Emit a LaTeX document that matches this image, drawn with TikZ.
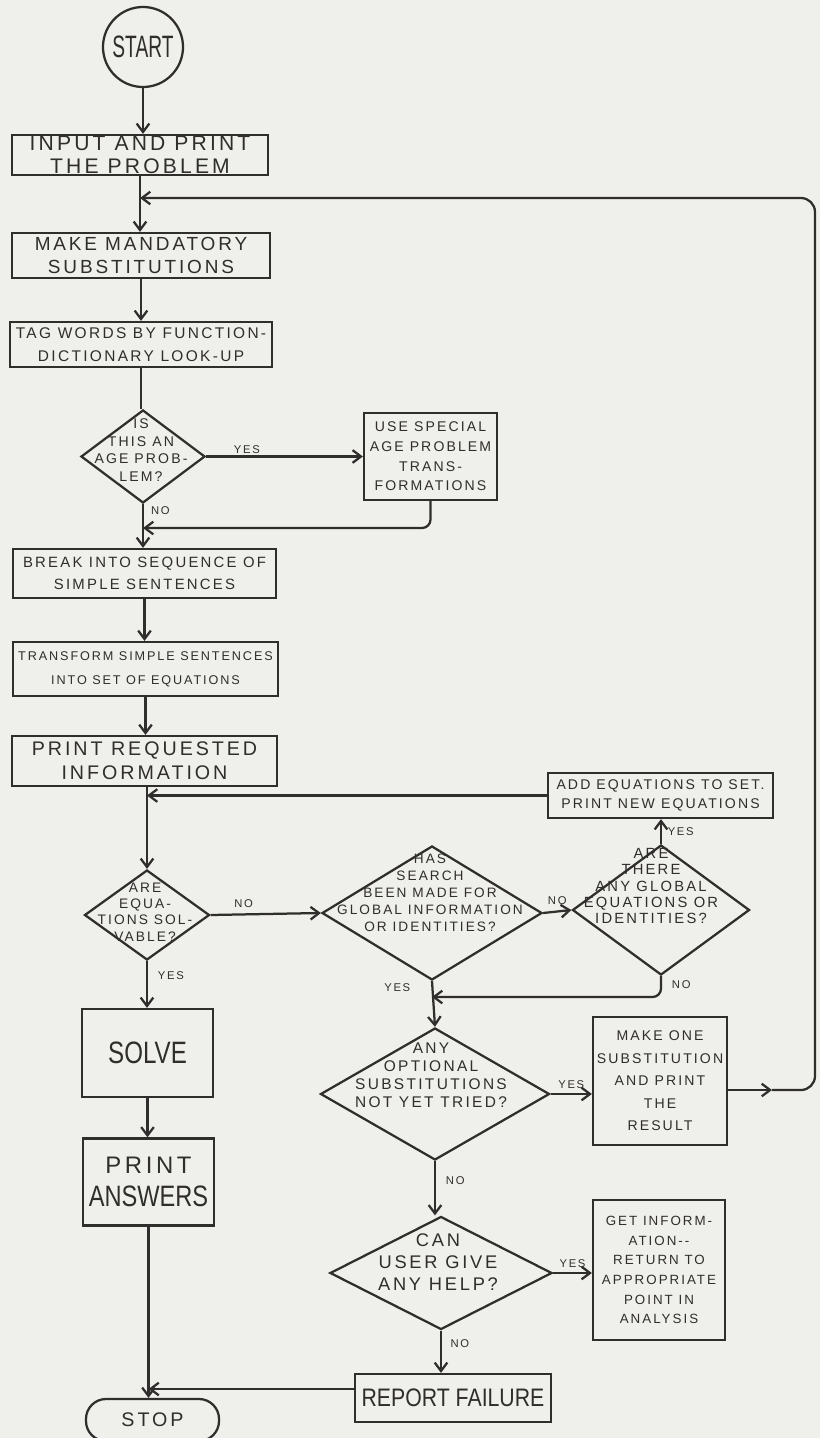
\documentclass[tikz,border=0pt]{standalone}
\usepackage{graphicx}
\usepackage{fontspec}
\setmainfont{Liberation Sans}
\newfontfamily\hand[LetterSpace=15]{Liberation Sans}
\newfontfamily\handc{Liberation Sans}
\usetikzlibrary{shapes.geometric, arrows.meta}
\definecolor{ink}{RGB}{48,46,44}
\definecolor{paper}{RGB}{239,239,236}
\newcommand{\fsz}[2]{\fontsize{#1}{#2}\selectfont}

\begin{document}
\begin{tikzpicture}[x=0.025cm, y=-0.025cm,
    box/.style={draw=ink, line width=1.6pt, rectangle, align=center, inner sep=0pt, text=ink},
    decision/.style={draw=ink, line width=1.6pt, diamond, inner sep=0pt},
    qtext/.style={align=center, inner sep=0pt, text=ink},
    lbl/.style={font=\hand\fsz{8}{8}, text=ink, inner sep=1pt},
    wire/.style={draw=ink, line width=1.6pt},
    flow/.style={wire, -{Straight Barb[length=6pt,width=9pt]}}]
    \fill[paper] (0,0) rectangle (820,1438);
    \useasboundingbox (0,0) rectangle (820,1438);

    \node[circle, draw=ink, line width=1.6pt, minimum size=2cm, inner sep=0pt, text=ink, font=\handc\fsz{22}{22}] (start) at (143,47) {\scalebox{0.62}[1]{START}};
    \node[box, minimum width=6.4cm, minimum height=1cm, font=\hand\fsz{15}{16}] (input) at (140,155) {INPUT AND PRINT\\THE PROBLEM};
    \node[box, minimum width=6.45cm, minimum height=1.125cm, font=\hand\fsz{13.5}{16}] (mandatory) at (141,255.5) {MAKE MANDATORY\\SUBSTITUTIONS};
    \node[box, minimum width=6.55cm, minimum height=1.125cm, font=\hand\fsz{11}{16}] (tag) at (141,344.5) {TAG WORDS BY FUNCTION-\\DICTIONARY LOOK-UP};
    \node[decision, minimum width=3.1cm, minimum height=2.325cm] (ageq) at (143,456.5) {};
    \node[qtext, font=\hand\fsz{10}{12.5}] (ageqtext) at (141,450) {IS\\THIS AN\\AGE PROB-\\LEM?};
    \node[box, minimum width=3.325cm, minimum height=2.175cm, font=\hand\fsz{10}{14}] (special) at (430.5,456.5) {USE SPECIAL\\AGE PROBLEM\\TRANS-\\FORMATIONS};
    \node[box, minimum width=6.575cm, minimum height=1.225cm, font=\hand\fsz{10.6}{16}] (break) at (144.5,573.5) {BREAK INTO SEQUENCE OF\\SIMPLE SENTENCES};
    \node[box, minimum width=6.625cm, minimum height=1.35cm, font=\hand\fsz{9}{17}] (transform) at (145.5,669) {TRANSFORM SIMPLE SENTENCES\\INTO SET OF EQUATIONS};
    \node[box, minimum width=6.625cm, minimum height=1.25cm, font=\hand\fsz{14}{17}] (requested) at (144.5,761) {PRINT REQUESTED\\INFORMATION};
    \node[box, minimum width=5.625cm, minimum height=1.125cm, font=\hand\fsz{10}{14}] (addeq) at (660.5,795.5) {ADD EQUATIONS TO SET.\\PRINT NEW EQUATIONS};
    \node[decision, minimum width=3.125cm, minimum height=2.25cm] (solvq) at (147,915) {};
    \node[qtext, font=\hand\fsz{9.8}{11.5}] (solvqtext) at (145,912) {ARE\\EQUA-\\TIONS SOL-\\VABLE?};
    \node[decision, minimum width=5.5cm, minimum height=3.35cm] (search) at (432,913) {};
    \node[qtext, font=\hand\fsz{9.7}{12}] (searchtext) at (430,893) {HAS\\SEARCH\\BEEN MADE FOR\\GLOBAL INFORMATION\\OR IDENTITIES?};
    \node[decision, minimum width=4.425cm, minimum height=3.25cm] (there) at (661,910) {};
    \node[qtext, font=\hand\fsz{10.5}{11.5}] (theretext) at (651,886) {ARE\\THERE\\ANY GLOBAL\\EQUATIONS OR\\IDENTITIES?};
    \node[box, minimum width=3.275cm, minimum height=2.2cm, font=\handc\fsz{22}{22}] (solve) at (147.5,1053) {\scalebox{0.78}[1]{SOLVE}};
    \node[box, minimum width=3.275cm, minimum height=2.175cm, font=\handc\fsz{21}{24}] (answers) at (148.5,1182) {{\hand\fsz{17}{24}PRINT}\\\scalebox{0.8}[1]{ANSWERS}};
    \node[decision, minimum width=5.725cm, minimum height=3.3cm] (optq) at (435,1094) {};
    \node[qtext, font=\hand\fsz{11}{12.8}] (optqtext) at (431,1075) {ANY\\OPTIONAL\\SUBSTITUTIONS\\NOT YET TRIED?};
    \node[box, minimum width=3.35cm, minimum height=3.2cm, font=\hand\fsz{10}{16}] (makeone) at (660,1081) {MAKE ONE\\SUBSTITUTION\\AND PRINT\\THE\\RESULT};
    \node[decision, minimum width=5.55cm, minimum height=2.825cm] (helpq) at (441,1273) {};
    \node[qtext, font=\hand\fsz{13}{15.6}] (helpqtext) at (438,1262) {CAN\\USER GIVE\\ANY HELP?};
    \node[box, minimum width=3.3cm, minimum height=3.5cm, font=\hand\fsz{9.5}{14}] (getinfo) at (659,1270) {GET INFORM-\\ATION--\\RETURN TO\\APPROPRIATE\\POINT IN\\ANALYSIS};
    \node[box, minimum width=4.9cm, minimum height=1.2cm, font=\handc\fsz{18}{18}] (failure) at (453,1398) {\scalebox{0.84}[1]{REPORT FAILURE}};
    \node[box, minimum width=3.325cm, minimum height=1.05cm, rounded corners=0.5cm, font=\hand\fsz{14}{14}] (stop) at (152.5,1420) {STOP};

    \coordinate (loopmid) at (772,1090);
    \coordinate (loopR) at (815,198);
    \coordinate (ageback) at (143,528);
    \coordinate (thereback) at (432,997);
    \coordinate (failjoin) at (148.5,1389);

    \draw[flow] (start.south) -- (start.south |- input.north);
    \draw[flow] (input.south) -- (input.south |- mandatory.north);
    \draw[flow] (mandatory.south) -- (mandatory.south |- tag.north);
    \draw[wire] (tag.south) -- (tag.south |- ageq.north);
    \draw[flow] (ageq.east) -- (ageq.east -| special.west) node[lbl, pos=0.26, above] (yesage) {YES};
    \draw[flow] (ageq.south) -- (ageq.south |- break.north) node[lbl, pos=0.15, right=4pt] (noage) {NO};
    \draw[flow, rounded corners=6pt] (special.south) |- (ageback);
    \draw[flow] (break.south) -- (break.south |- transform.north);
    \draw[flow] (transform.south) -- (transform.south |- requested.north);
    \draw[flow] (solvq.north |- requested.south) -- (solvq.north);
    \draw[flow] (addeq.west) -- (addeq.west -| solvq.north);
    \draw[flow] (solvq.east) -- (search.west) node[lbl, pos=0.3, above=3pt] (nosolv) {NO};
    \draw[flow] (search.east) -- (there.west) node[lbl, midway, above=3pt] (nosearch) {NO};
    \draw[flow] (there.north) -- (there.north |- addeq.south) node[lbl, midway, right=3pt] (yesthere) {YES};
    \draw[flow, rounded corners=6pt] (there.south) |- (thereback) node[lbl, pos=0.2, right=6pt] (nothere) {NO};
    \draw[flow] (search.south) -- (optq.north) node[lbl, pos=0.15, left=14pt] (yessearch) {YES};
    \draw[flow] (optq.east) -- (optq.east -| makeone.west) node[lbl, midway, above=2pt] (yesopt) {YES};
    \draw[flow] (makeone.east |- loopmid) -- (loopmid);
    \draw[flow, rounded corners=10pt] (loopmid) -| (loopR) -- (input.south |- loopR);
    \draw[flow] (optq.south) -- (optq.south |- helpq.north) node[lbl, pos=0.35, right=6pt] (noopt) {NO};
    \draw[flow] (helpq.east) -- (helpq.east -| getinfo.west) node[lbl, midway, above=2pt] (yeshelp) {YES};
    \draw[flow] (helpq.south) -- (helpq.south |- failure.north) node[lbl, pos=0.3, right=5pt] (nohelp) {NO};
    \draw[flow] (failure.west |- failjoin) -- (failjoin);
    \draw[flow] (solvq.south) -- (solvq.south |- solve.north) node[lbl, pos=0.3, right=6pt] (yessolv) {YES};
    \draw[flow] (solve.south) -- (solve.south |- answers.north);
    \draw[flow] (answers.south) -- (answers.south |- stop.north);
\end{tikzpicture}
\end{document}
